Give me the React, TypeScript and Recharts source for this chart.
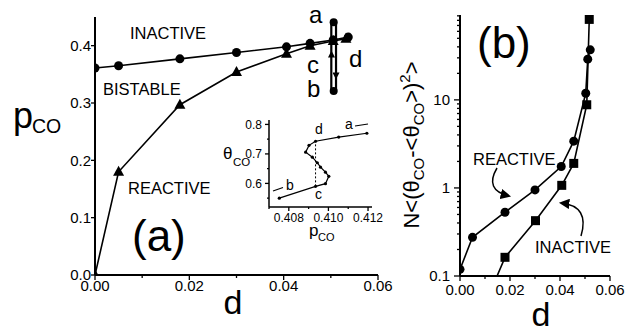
import React from "react";
import { ComposedChart, Line, XAxis, YAxis } from "recharts";

const FONT = '"Liberation Sans", Arial, Helvetica, sans-serif';

// ---- panel (a): p_CO phase boundaries vs d ----
const dUpper = [0, 0.005, 0.018, 0.03, 0.0406, 0.0456, 0.0505, 0.0537];
const pUpper = [0.361, 0.365, 0.377, 0.388, 0.398, 0.404, 0.41, 0.415];
const dLower = [0, 0.005, 0.018, 0.03, 0.0406, 0.0456, 0.0505, 0.0532];
const pLower = [0, 0.18, 0.297, 0.354, 0.386, 0.4, 0.408, 0.412];

// hysteresis loop at fixed d (a -> b -> a)
const loopD = [0.0501, 0.0501, 0.0511, 0.0511, 0.0501];
const loopP = [0.321, 0.441, 0.441, 0.321, 0.321];
const loopEndD = [0.0506, 0.0506];
const loopEndP = [0.441, 0.321];

const aXTicks = [0, 0.01, 0.02, 0.03, 0.04, 0.05, 0.06];
const aYTicks = [0, 0.1, 0.2, 0.3, 0.4];

// ---- inset: theta_CO vs p_CO ----
const insetP = [0.40752, 0.40935, 0.40985, 0.41002, 0.40985, 0.4096, 0.40944, 0.40919, 0.40885, 0.40902, 0.40935, 0.41052, 0.41194];
const insetTheta = [0.55, 0.59, 0.599, 0.624, 0.638, 0.655, 0.67, 0.689, 0.706, 0.729, 0.743, 0.757, 0.77];
const dashP = [0.40935, 0.40935];
const dashTheta = [0.59, 0.743];

const insetXTicks = [0.407, 0.408, 0.409, 0.41, 0.411, 0.412];
const insetYTicks = [0.55, 0.6, 0.65, 0.7, 0.75, 0.8];

// ---- panel (b): fluctuations vs d ----
const dReactive = [0, 0.005, 0.018, 0.03, 0.0405, 0.0455, 0.0503, 0.0511, 0.0521];
const nReactive = [0.119, 0.275, 0.53, 0.95, 1.75, 3.4, 11.9, 29, 37];
const dInactive = [0.005, 0.018, 0.0302, 0.0407, 0.0455, 0.0507, 0.0517];
const nInactive = [0.022, 0.163, 0.425, 1.07, 1.9, 8.8, 82];

const bXTicks = [0, 0.01, 0.02, 0.03, 0.04, 0.05, 0.06];
const bYTicks = [
  0.1, 0.2, 0.3, 0.4, 0.5, 0.6, 0.7, 0.8, 0.9,
  1, 2, 3, 4, 5, 6, 7, 8, 9,
  10, 20, 30, 40, 50, 60, 70, 80, 90,
];

const pts = (xs: number[], ys: number[]) => xs.map((x, i) => ({ x, y: ys[i] }));

const near = (v: number, step: number) => Math.abs(Math.round(v / step) * step - v) < 1e-9;
const isDecade = (v: number) => Math.abs(Math.log10(v) - Math.round(Math.log10(v))) < 1e-6;

type TickOpts = {
  side: "left" | "bottom";
  isMajor: (v: number) => boolean;
  fmt: (v: number) => string;
  major: number;
  minor: number;
  gap: number;
  size: number;
};

const makeTick = (o: TickOpts) => (props: any) => {
  const { x, y, payload, index } = props;
  const v = payload.value as number;
  const big = o.isMajor(v);
  const len = big ? o.major : o.minor;
  if (o.side === "left") {
    return (
      <g key={`tl-${index}`}>
        <line x1={x - len} y1={y} x2={x} y2={y} stroke="#000" strokeWidth={1.3} />
        {big && (
          <text x={x - o.major - o.gap} y={y} dy="0.36em" textAnchor="end" fontSize={o.size} fontFamily={FONT} fill="#000">
            {o.fmt(v)}
          </text>
        )}
      </g>
    );
  }
  return (
    <g key={`tb-${index}`}>
      <line x1={x} y1={y} x2={x} y2={y + len} stroke="#000" strokeWidth={1.3} />
      {big && (
        <text x={x} y={y + o.major + o.gap} dy="0.72em" textAnchor="middle" fontSize={o.size} fontFamily={FONT} fill="#000">
          {o.fmt(v)}
        </text>
      )}
    </g>
  );
};

const CircleDot = (r: number) => (props: any) => (
  <circle key={`c-${props.index}`} cx={props.cx} cy={props.cy} r={r} fill="#000" />
);

const TriangleDot = (props: any) => {
  const { cx, cy, index } = props;
  return <path key={`t-${index}`} d={`M${cx},${cy - 6} L${cx + 5.5},${cy + 4} L${cx - 5.5},${cy + 4} Z`} fill="#000" />;
};

const SquareDot = (props: any) => {
  const { cx, cy, index } = props;
  return <rect key={`s-${index}`} x={cx - 4.5} y={cy - 4.5} width={9} height={9} fill="#000" />;
};

const axisLine = { stroke: "#000", strokeWidth: 2 };

function PanelA() {
  return (
    <ComposedChart width={400} height={327} margin={{ top: 17, right: 22, bottom: 22, left: 0 }}>
      <XAxis
        type="number"
        dataKey="x"
        domain={[0, 0.06]}
        ticks={aXTicks}
        interval={0}
        allowDataOverflow
        height={30}
        tickSize={0}
        tickMargin={0}
        tickLine={false}
        axisLine={axisLine}
        tick={makeTick({ side: "bottom", isMajor: (v) => near(v, 0.02), fmt: (v) => v.toFixed(2), major: 5, minor: 3, gap: 0, size: 15 })}
      />
      <YAxis
        type="number"
        dataKey="y"
        domain={[0, 0.45]}
        ticks={aYTicks}
        interval={0}
        allowDataOverflow
        width={95}
        tickSize={0}
        tickMargin={0}
        tickLine={false}
        axisLine={axisLine}
        tick={makeTick({ side: "left", isMajor: () => true, fmt: (v) => v.toFixed(1), major: 4, minor: 2, gap: 0, size: 15 })}
      />
      <Line data={pts(dUpper, pUpper)} dataKey="y" stroke="#000" strokeWidth={1.6} dot={CircleDot(4.5)} isAnimationActive={false} />
      <Line data={pts(dLower, pLower)} dataKey="y" stroke="#000" strokeWidth={1.6} dot={TriangleDot} isAnimationActive={false} />
      <Line data={pts(loopD, loopP)} dataKey="y" stroke="#000" strokeWidth={2.2} dot={false} isAnimationActive={false} />
      <Line data={pts(loopEndD, loopEndP)} dataKey="y" stroke="none" dot={CircleDot(4)} isAnimationActive={false} />
    </ComposedChart>
  );
}

function Inset() {
  return (
    <ComposedChart width={180} height={130} margin={{ top: 10, right: 28, bottom: 13, left: 0 }}>
      <XAxis
        type="number"
        dataKey="x"
        domain={[0.407, 0.4122]}
        ticks={insetXTicks}
        interval={0}
        allowDataOverflow
        height={20}
        tickSize={0}
        tickMargin={0}
        tickLine={false}
        axisLine={{ stroke: "#000", strokeWidth: 1.5 }}
        tick={makeTick({ side: "bottom", isMajor: (v) => near(v - 0.408, 0.002), fmt: (v) => v.toFixed(3), major: 4, minor: 2, gap: 2, size: 12 })}
      />
      <YAxis
        type="number"
        dataKey="y"
        domain={[0.52, 0.815]}
        ticks={insetYTicks}
        interval={0}
        allowDataOverflow
        width={49}
        tickSize={0}
        tickMargin={0}
        tickLine={false}
        axisLine={{ stroke: "#000", strokeWidth: 1.5 }}
        tick={makeTick({ side: "left", isMajor: (v) => near(v, 0.1), fmt: (v) => v.toFixed(1), major: 4, minor: 2, gap: 3, size: 12 })}
      />
      <Line data={pts(dashP, dashTheta)} dataKey="y" stroke="#000" strokeWidth={1} strokeDasharray="2 2" dot={false} isAnimationActive={false} />
      <Line data={pts(insetP, insetTheta)} dataKey="y" stroke="#000" strokeWidth={1.2} dot={CircleDot(1.6)} isAnimationActive={false} />
    </ComposedChart>
  );
}

function PanelB() {
  return (
    <ComposedChart width={229} height={327} margin={{ top: 15, right: 19, bottom: 21, left: 0 }}>
      <XAxis
        type="number"
        dataKey="x"
        domain={[0, 0.06]}
        ticks={bXTicks}
        interval={0}
        allowDataOverflow
        height={30}
        tickSize={0}
        tickMargin={0}
        tickLine={false}
        axisLine={axisLine}
        tick={makeTick({ side: "bottom", isMajor: (v) => near(v, 0.02), fmt: (v) => v.toFixed(2), major: 5, minor: 3, gap: 3, size: 15 })}
      />
      <YAxis
        type="number"
        dataKey="y"
        scale="log"
        domain={[0.1, 92]}
        ticks={bYTicks}
        interval={0}
        allowDataOverflow
        width={60}
        tickSize={0}
        tickMargin={0}
        tickLine={false}
        axisLine={axisLine}
        tick={makeTick({ side: "left", isMajor: isDecade, fmt: (v) => String(v), major: 6, minor: 3, gap: 4, size: 15 })}
      />
      <Line data={pts(dReactive, nReactive)} dataKey="y" stroke="#000" strokeWidth={1.6} dot={CircleDot(4.5)} isAnimationActive={false} />
      <Line data={pts(dInactive, nInactive)} dataKey="y" stroke="#000" strokeWidth={1.6} dot={SquareDot} isAnimationActive={false} />
    </ComposedChart>
  );
}

// text labels, letters and arrows drawn on top
function Annotations() {
  const t = { fontFamily: FONT, fill: "#000" };
  return (
    <svg width={629} height={327} style={{ position: "absolute", left: 0, top: 0, pointerEvents: "none" }}>
      <defs>
        <marker id="head" viewBox="0 0 10 10" refX="8" refY="5" markerWidth="7" markerHeight="7" orient="auto">
          <path d="M0,0 L10,5 L0,10 Z" fill="#000" />
        </marker>
      </defs>

      {/* panel (a) */}
      <text x={13} y={128} fontSize={36} {...t}>p</text>
      <text x={32} y={133} fontSize={19.5} {...t}>CO</text>
      <text x={233} y={314} fontSize={34} textAnchor="middle" {...t}>d</text>
      <text x={130} y={39} fontSize={16.5} {...t}>INACTIVE</text>
      <text x={103} y={95} fontSize={16.5} {...t}>BISTABLE</text>
      <text x={128} y={194} fontSize={16.5} {...t}>REACTIVE</text>
      <text x={132} y={251} fontSize={44} {...t}>(a)</text>

      <text x={309} y={23} fontSize={24} {...t}>a</text>
      <text x={307} y={73} fontSize={24} {...t}>c</text>
      <text x={307} y={97} fontSize={24} {...t}>b</text>
      <text x={349} y={67} fontSize={24} {...t}>d</text>
      <path d="M331.5,62 L331.5,52" stroke="#000" strokeWidth={1} markerEnd="url(#head)" />
      <path d="M336,68 L336,78" stroke="#000" strokeWidth={1} markerEnd="url(#head)" />

      {/* inset */}
      <text x={223} y={159} fontSize={17} {...t}>θ</text>
      <text x={233} y={166} fontSize={11.5} {...t}>CO</text>
      <text x={309} y={236} fontSize={17} {...t}>p</text>
      <text x={318} y={241} fontSize={11} {...t}>CO</text>
      <text x={345} y={129} fontSize={14} {...t}>a</text>
      <text x={315} y={134} fontSize={14} {...t}>d</text>
      <text x={286} y={190} fontSize={14} {...t}>b</text>
      <text x={315} y={199} fontSize={14} {...t}>c</text>
      <line x1={355} y1={126} x2={368} y2={124} stroke="#000" strokeWidth={1.2} />
      <line x1={273} y1={191} x2={283} y2={187.5} stroke="#000" strokeWidth={1.2} />

      {/* panel (b) */}
      <text transform="translate(419,145) rotate(-90)" textAnchor="middle" fontSize={22} {...t}>
        <tspan>N&lt;(θ</tspan>
        <tspan fontSize={15} dy={5}>CO</tspan>
        <tspan dy={-5}>-&lt;θ</tspan>
        <tspan fontSize={15} dy={5}>CO</tspan>
        <tspan dy={-5}>&gt;)</tspan>
        <tspan fontSize={15} dy={-9}>2</tspan>
        <tspan dy={9}>&gt;</tspan>
      </text>
      <text x={541} y={326} fontSize={34} textAnchor="middle" {...t}>d</text>
      <text x={477} y={58} fontSize={44} {...t}>(b)</text>
      <text x={473} y={165} fontSize={16.5} {...t}>REACTIVE</text>
      <text x={535} y={253} fontSize={16.5} {...t}>INACTIVE</text>
      <path d="M497,168 Q484,190 509,196" fill="none" stroke="#000" strokeWidth={1.5} markerEnd="url(#head)" />
      <path d="M581,236 Q590,206 561,203" fill="none" stroke="#000" strokeWidth={1.5} markerEnd="url(#head)" />
    </svg>
  );
}

export default function App() {
  return (
    <div style={{ position: "absolute", left: 0, top: 0, width: 629, height: 327, background: "#fff", overflow: "hidden" }}>
      <div style={{ position: "absolute", left: 0, top: 0 }}>
        <PanelA />
      </div>
      <div style={{ position: "absolute", left: 220, top: 110 }}>
        <Inset />
      </div>
      <div style={{ position: "absolute", left: 400, top: 0 }}>
        <PanelB />
      </div>
      <Annotations />
    </div>
  );
}
